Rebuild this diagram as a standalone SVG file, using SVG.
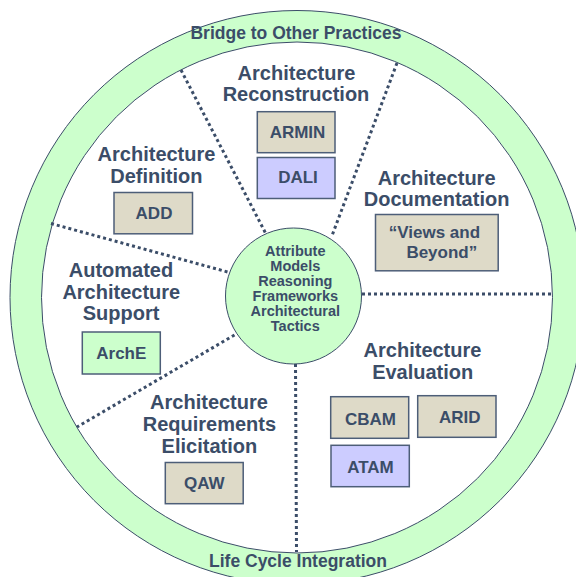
<svg xmlns="http://www.w3.org/2000/svg" width="576" height="577" viewBox="0 0 576 577">
<style>
text{font-family:"Liberation Sans",Arial,sans-serif;font-weight:bold;fill:#3b4d68;text-anchor:middle}
.t{font-size:20px}
.b{font-size:17px}
.c{font-size:14.5px}
.r{font-size:17.5px}
.tan{fill:#dedac8;stroke:#4d5e78;stroke-width:1.5}
.lav{fill:#ccccff;stroke:#4d5e78;stroke-width:1.5}
.grn{fill:#ccffcc;stroke:#4d5e78;stroke-width:1.5}
.dot{stroke:#3b4d68;stroke-width:3;stroke-dasharray:3 3;fill:none}
</style>
<rect width="576" height="577" fill="#ffffff"/>
<g id="ring">
<circle cx="297" cy="297.5" r="287" fill="#ccffcc" stroke="#3b4d68" stroke-width="1"/>
<circle cx="297" cy="297.5" r="255.5" fill="#ffffff" stroke="#3b4d68" stroke-width="1"/>
<text class="r" x="296" y="38.5">Bridge to Other Practices</text>
<text class="r" x="298" y="566.5">Life Cycle Integration</text>
</g>
<g id="connectors">
<line class="dot" x1="181" y1="70" x2="265.5" y2="233"/>
<line class="dot" x1="397" y1="63" x2="331.5" y2="237"/>
<line class="dot" x1="51" y1="223.5" x2="229.5" y2="272.5"/>
<line class="dot" x1="362" y1="294" x2="554" y2="294"/>
<line class="dot" x1="234.5" y1="335" x2="77" y2="427"/>
<line class="dot" x1="295.5" y1="364" x2="296.5" y2="552"/>
</g>
<g id="center">
<circle cx="293.5" cy="296" r="68" fill="#ccffcc" stroke="#3b4d68" stroke-width="1"/>
<text class="c" x="295.3" y="256.3">Attribute</text>
<text class="c" x="295.3" y="271.2">Models</text>
<text class="c" x="295.3" y="286.1">Reasoning</text>
<text class="c" x="295.3" y="301">Frameworks</text>
<text class="c" x="295.3" y="315.9">Architectural</text>
<text class="c" x="295.3" y="330.8">Tactics</text>
</g>
<g id="reconstruction">
<text class="t" x="296.5" y="80">Architecture</text>
<text class="t" x="296" y="100.5">Reconstruction</text>
<rect class="tan" x="257.3" y="111.7" width="77.7" height="41"/>
<text class="b" x="297.5" y="138.3">ARMIN</text>
<rect class="lav" x="257.3" y="157.5" width="77.7" height="41"/>
<text class="b" x="298" y="183">DALI</text>
</g>
<g id="definition">
<text class="t" x="156.5" y="160.7">Architecture</text>
<text class="t" x="156.3" y="182.5">Definition</text>
<rect class="tan" x="114" y="192.5" width="78.5" height="41.3"/>
<text class="b" x="154" y="218.5">ADD</text>
</g>
<g id="documentation">
<text class="t" x="436.6" y="184.7">Architecture</text>
<text class="t" x="436.6" y="206.4">Documentation</text>
<rect class="tan" x="375.5" y="214.5" width="122.7" height="56.3"/>
<text class="b" x="434.4" y="238">“Views and</text>
<text class="b" x="441.8" y="257.5">Beyond”</text>
</g>
<g id="automated">
<text class="t" x="121" y="277.3">Automated</text>
<text class="t" x="121.3" y="298.5">Architecture</text>
<text class="t" x="121" y="320">Support</text>
<rect class="grn" x="82.3" y="332" width="78" height="42"/>
<text class="b" x="121.3" y="358.5">ArchE</text>
</g>
<g id="evaluation">
<text class="t" x="422.5" y="357.3">Architecture</text>
<text class="t" x="422.7" y="378.5">Evaluation</text>
<rect class="tan" x="330.7" y="396.7" width="78" height="41.6"/>
<text class="b" x="370.5" y="424.5">CBAM</text>
<rect class="tan" x="417.7" y="395.7" width="78.3" height="41.6"/>
<text class="b" x="459.8" y="422.5">ARID</text>
<rect class="lav" x="331" y="445.3" width="78.3" height="41.4"/>
<text class="b" x="370.5" y="473">ATAM</text>
</g>
<g id="requirements">
<text class="t" x="209" y="409">Architecture</text>
<text class="t" x="209.4" y="431">Requirements</text>
<text class="t" x="209.4" y="453">Elicitation</text>
<rect class="tan" x="165.3" y="462.5" width="77.9" height="41.2"/>
<text class="b" x="204.3" y="488.5">QAW</text>
</g>
</svg>
